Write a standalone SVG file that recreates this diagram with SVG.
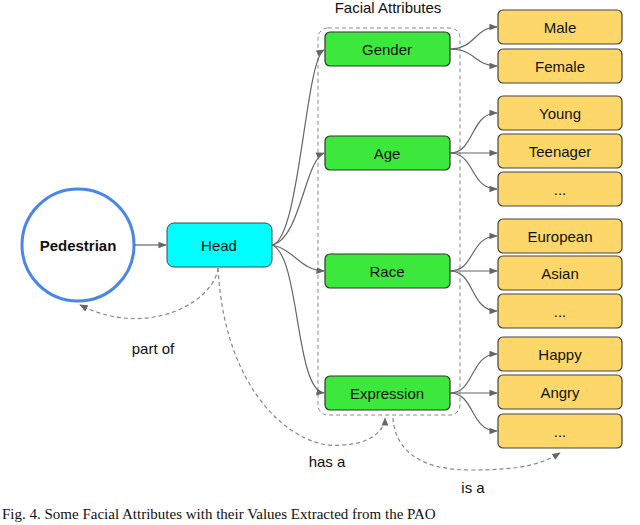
<svg xmlns="http://www.w3.org/2000/svg" width="640" height="525" viewBox="0 0 640 525">
<style>
text{font-family:"Liberation Sans",Arial,sans-serif;font-size:15px;fill:#111;text-anchor:middle;dominant-baseline:central}
.g{fill:#3de83d;stroke:#333;stroke-width:1.2}
.y{fill:#fdd76a;stroke:#444;stroke-width:1.2}
.c path{fill:none;stroke:#666;stroke-width:1.2}
.c .d{stroke:#888;stroke-dasharray:4 3}
</style>
<defs><marker id="a" viewBox="0 0 10 10" refX="9" refY="5" markerWidth="7" markerHeight="7" orient="auto"><path d="M0,1L10,5L0,9z" fill="#666"/></marker></defs>
<rect x="318" y="28" width="142" height="387" rx="10" fill="none" stroke="#888" stroke-dasharray="4 3"/>
<text x="388" y="7" fill="#333">Facial Attributes</text>
<g id="pedestrian"><circle cx="78" cy="245" r="56" fill="#fff" stroke="#4a86e8" stroke-width="3"/><text x="78" y="245" font-weight="bold">Pedestrian</text></g>
<g id="head"><rect x="167" y="223" width="105" height="44" rx="7" fill="#00ffff" stroke="#444"/><text x="219" y="245">Head</text></g>
<g id="gender"><rect class="g" x="325" y="32" width="125" height="34" rx="5"/><text x="387" y="49">Gender</text></g>
<g id="age"><rect class="g" x="325" y="136" width="125" height="34" rx="5"/><text x="387" y="153">Age</text></g>
<g id="race"><rect class="g" x="325" y="254" width="125" height="34" rx="5"/><text x="387" y="271">Race</text></g>
<g id="expression"><rect class="g" x="325" y="376" width="125" height="34" rx="5"/><text x="387" y="393">Expression</text></g>
<g id="male"><rect class="y" x="498" y="10" width="124" height="34" rx="5"/><text x="560" y="27">Male</text></g>
<g id="female"><rect class="y" x="498" y="49" width="124" height="34" rx="5"/><text x="560" y="66">Female</text></g>
<g id="young"><rect class="y" x="498" y="96" width="124" height="34" rx="5"/><text x="560" y="113">Young</text></g>
<g id="teenager"><rect class="y" x="498" y="134" width="124" height="34" rx="5"/><text x="560" y="151">Teenager</text></g>
<g id="age-more"><rect class="y" x="498" y="172" width="124" height="34" rx="5"/><text x="560" y="189">...</text></g>
<g id="european"><rect class="y" x="498" y="219" width="124" height="34" rx="5"/><text x="560" y="236">European</text></g>
<g id="asian"><rect class="y" x="498" y="256" width="124" height="34" rx="5"/><text x="560" y="273">Asian</text></g>
<g id="race-more"><rect class="y" x="498" y="294" width="124" height="34" rx="5"/><text x="560" y="311">...</text></g>
<g id="happy"><rect class="y" x="498" y="337" width="124" height="34" rx="5"/><text x="560" y="354">Happy</text></g>
<g id="angry"><rect class="y" x="498" y="375" width="124" height="34" rx="5"/><text x="560" y="392">Angry</text></g>
<g id="expr-more"><rect class="y" x="498" y="414" width="124" height="34" rx="5"/><text x="560" y="431">...</text></g>
<g class="c" id="connectors">
<path d="M134,245H166" marker-end="url(#a)"/>
<path d="M272,245C300,240 305,60 324,50" marker-end="url(#a)"/>
<path d="M272,245C300,240 305,160 324,153" marker-end="url(#a)"/>
<path d="M272,245C295,250 300,270 324,271" marker-end="url(#a)"/>
<path d="M272,245C300,255 295,390 324,393" marker-end="url(#a)"/>
<path d="M450,49C475,49 475,27 497,27" marker-end="url(#a)"/>
<path d="M450,49C475,49 475,66 497,66" marker-end="url(#a)"/>
<path d="M450,153C475,153 470,113 497,113" marker-end="url(#a)"/>
<path d="M450,153H497" marker-end="url(#a)"/>
<path d="M450,153C475,153 470,189 497,189" marker-end="url(#a)"/>
<path d="M450,271C475,271 470,236 497,236" marker-end="url(#a)"/>
<path d="M450,271H497" marker-end="url(#a)"/>
<path d="M450,271C475,271 470,311 497,311" marker-end="url(#a)"/>
<path d="M450,393C475,393 470,354 497,354" marker-end="url(#a)"/>
<path d="M450,393H497" marker-end="url(#a)"/>
<path d="M450,393C475,393 470,431 497,431" marker-end="url(#a)"/>
<path class="d" d="M218,268C215,300 150,340 80,305" marker-end="url(#a)"/>
<path class="d" d="M218,268C225,400 300,450 340,445C370,445 385,430 385,418" marker-end="url(#a)"/>
<path class="d" d="M393,418C395,450 420,470 470,470C520,470 540,465 560,453" marker-end="url(#a)"/>
</g>
<text x="153" y="348">part of</text>
<text x="327" y="461">has a</text>
<text x="473" y="487">is a</text>
<text x="2" y="514" style="font-family:'Liberation Serif',serif;font-size:15px;text-anchor:start">Fig. 4.   Some Facial Attributes with their Values Extracted from the PAO</text>
</svg>
